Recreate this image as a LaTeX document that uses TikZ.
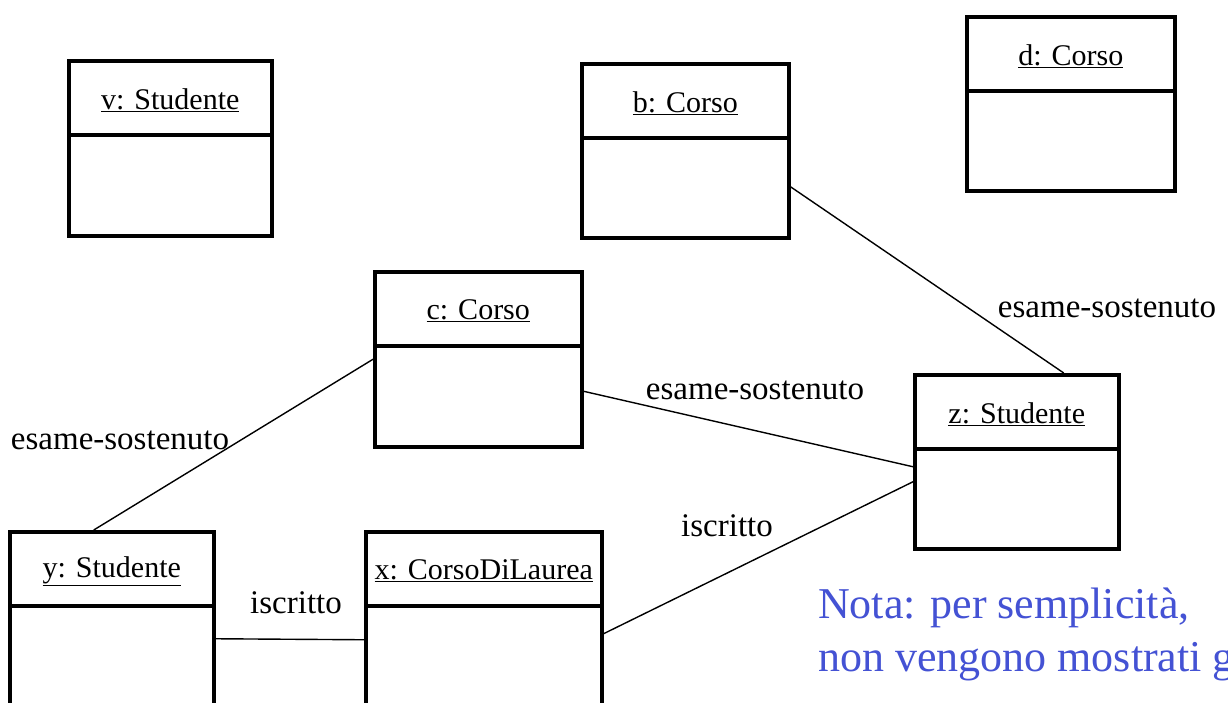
\documentclass[tikz,border=0pt]{standalone}
\usepackage{fontspec}
\setmainfont{Liberation Serif}
\definecolor{notablue}{RGB}{68,82,212}
\tikzset{
  objbox/.style={draw=black, line width=3.5pt, fill=white, inner sep=0pt, anchor=north west},
  divider/.style={line width=3.5pt},
  otitle/.style={font=\fontsize{30}{36}\selectfont, inner sep=0pt},
  assoc/.style={line width=1.4pt},
  alabel/.style={font=\fontsize{33}{40}\selectfont, inner sep=0pt},
  nota/.style={font=\fontsize{44}{53}\selectfont, text=notablue, align=left, inner sep=0pt, anchor=north west}
}
\newcommand{\objbx}[6]{%
  \node[objbox, minimum width=#4pt, minimum height=#5pt] (#1) at (#2,#3) {};
  \draw[divider] ([yshift=-76pt]#1.north west) -- ([yshift=-76pt]#1.north east);
  \node[otitle] (#1t) at ([yshift=-41pt]#1.north) {\underline{#6}};
}
\begin{document}
\begin{tikzpicture}[x=1pt,y=-1pt]
\clip (0,0) rectangle (1228,702);
\fill[white] (0,0) rectangle (1228,702);
\objbx{v}{67}{59}{203}{175}{v: Studente}
\objbx{b}{580}{62}{207}{174}{b: Corso}
\objbx{d}{965}{15}{208}{174}{d: Corso}
\objbx{c}{373}{270}{207}{175}{c: Corso}
\objbx{z}{913}{373}{204}{174}{z: Studente}
\objbx{y}{8}{530}{204}{180}{y: Studente}
\objbx{x}{364}{530}{236}{180}{x: CorsoDiLaurea}
% connectors
\draw[assoc] ([yshift=-36pt]b.east) -- ([xshift=47pt]z.north);
\draw[assoc] ([yshift=-32pt]c.east) -- ([yshift=-5pt]z.west);
\draw[assoc] (c.west) -- ([xshift=-18pt]y.north);
\draw[assoc] ([yshift=-12pt]x.east) -- ([yshift=-20pt]z.west);
\draw[assoc] ([yshift=-17pt]y.east) -- ([yshift=-18pt]x.west);
% labels
\node[alabel] (l1) at (1107,308) {esame-sostenuto};
\node[alabel] (l2) at (755,390) {esame-sostenuto};
\node[alabel] (l3) at (120,440) {esame-sostenuto};
\node[alabel] (l4) at (727,526) {iscritto};
\node[alabel] (l5) at (296,603) {iscritto};
\node[nota] (n) at (818,588) {Nota: per semplicità,\\non vengono mostrati g};
\end{tikzpicture}
\end{document}
